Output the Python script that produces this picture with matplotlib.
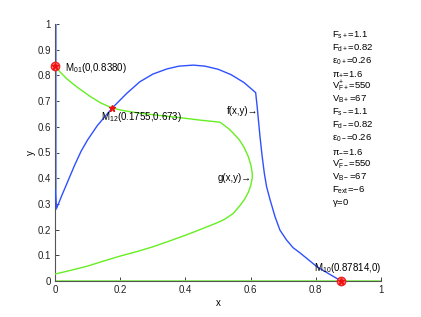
import matplotlib
matplotlib.use("Agg")
import matplotlib.pyplot as plt
import numpy as np

plt.rcParams['font.family'] = ['Liberation Sans', 'DejaVu Sans']
plt.rcParams['mathtext.fontset'] = 'custom'
plt.rcParams['mathtext.rm'] = 'Liberation Sans'
plt.rcParams['mathtext.it'] = 'Liberation Sans'

# f(x,y) nullcline (blue)
f_x = [0.0, 0.005, 0.02, 0.04, 0.06, 0.08, 0.1, 0.13, 0.1755, 0.22, 0.26, 0.3, 0.343, 0.38,
       0.424, 0.46, 0.5, 0.54, 0.58, 0.6155, 0.62, 0.624, 0.629, 0.635, 0.642, 0.649, 0.66,
       0.675, 0.69, 0.71, 0.73, 0.752, 0.78, 0.803, 0.84, 0.87814]
f_y = [0.355, 0.283, 0.33, 0.39, 0.45, 0.505, 0.549, 0.605, 0.673, 0.73, 0.775, 0.805, 0.825,
       0.836, 0.840, 0.836, 0.824, 0.803, 0.772, 0.733, 0.68, 0.626, 0.56, 0.49, 0.42, 0.367,
       0.315, 0.25, 0.198, 0.16, 0.13, 0.109, 0.08, 0.056, 0.028, 0.0]
f_axis_y = [0.283, 1.0]

# g(x,y) nullcline (green)
g_x = [0.0, 0.015, 0.036, 0.066, 0.107, 0.14, 0.1755, 0.21, 0.25, 0.3, 0.35, 0.4, 0.445, 0.506,
       0.52, 0.535, 0.547, 0.565, 0.58, 0.593, 0.601, 0.605, 0.605, 0.6, 0.593, 0.58, 0.567,
       0.547, 0.52, 0.5, 0.445, 0.4, 0.35, 0.3, 0.25, 0.2, 0.15, 0.1, 0.05, 0.0]
g_y = [0.838, 0.814, 0.787, 0.756, 0.719, 0.693, 0.673, 0.663, 0.655, 0.647, 0.64, 0.633, 0.626,
       0.618, 0.605, 0.59, 0.575, 0.55, 0.52, 0.484, 0.45, 0.42, 0.40, 0.37, 0.345, 0.315, 0.293,
       0.263, 0.24, 0.228, 0.2, 0.178, 0.155, 0.133, 0.114, 0.097, 0.078, 0.058, 0.042, 0.027]
g_axis_x = [0.0, 1.0]

# equilibria
eq_x = [0.0, 0.1755, 0.87814]
eq_y = [0.8380, 0.673, 0.0]
eq_labels = [r'M$_{01}$(0,0.8380)', r'M$_{12}$(0.1755,0.673)', r'M$_{10}$(0.87814,0)']

params = [r'F$_{s+}$=1.1', r'F$_{d+}$=0.82', r'$\varepsilon_{0+}$=0.26', r'$\pi_{+}$=1.6',
          r'V$^{+}_{F+}$=550', r'V$_{B+}$=67', r'F$_{s-}$=1.1', r'F$_{d-}$=0.82',
          r'$\varepsilon_{0-}$=0.26', r'$\pi_{-}$=1.6', r'V$^{-}_{F-}$=550', r'V$_{B-}$=67',
          r'F$_{ext}$=$-$6', r'$\gamma$=0']

W, H = 421, 317
fig = plt.figure(figsize=(W/100, H/100), dpi=100)
ax = fig.add_axes([55/W, 1-281/H, 326/W, 257/H])

blue = '#2f50ff'
green = '#66ee22'

ax.plot([0, 0], f_axis_y, color='#8a9cff', lw=2.2, zorder=2)
ax.plot(g_axis_x, [0, 0], color='#88ee55', lw=2.0, zorder=2)
ax.plot(f_x, f_y, color=blue, lw=1.0, zorder=3)
ax.plot(g_x, g_y, color=green, lw=1.0, zorder=3)

for i in (0, 2):
    ax.plot(eq_x[i], eq_y[i], 'o', ms=6, mfc='#ff8888', mec='#ee2222', mew=1.0, zorder=5, clip_on=False)
ax.plot(eq_x, eq_y, '*', ms=5, color='#ee1111', zorder=6, clip_on=False)

fs = 7
ax.text(0.03, 0.83, eq_labels[0], fontsize=fs, va='center', ha='left')
ax.text(0.142, 0.637, eq_labels[1], fontsize=fs, va='center', ha='left')
ax.text(0.793, 0.05, eq_labels[2], fontsize=fs, va='center', ha='left')
ax.text(0.624, 0.663, 'f(x,y)\u2192', fontsize=fs, va='center', ha='right')
ax.text(0.603, 0.402, 'g(x,y)\u2192', fontsize=fs, va='center', ha='right')

y0 = (281-35)/257
y1 = (281-203)/257
ys = np.linspace(y0, y1, len(params))
for s, yy in zip(params, ys):
    ax.text(0.849, yy, s, fontsize=6.8, va='center', ha='left')

ax.set_xlim(0, 1)
ax.set_ylim(0, 1)
ax.set_xticks(np.arange(0, 1.01, 0.2))
ax.set_yticks(np.arange(0, 1.01, 0.1))
ax.set_xticklabels(['0', '0.2', '0.4', '0.6', '0.8', '1'])
ax.set_yticklabels(['0', '0.1', '0.2', '0.3', '0.4', '0.5', '0.6', '0.7', '0.8', '0.9', '1'])
ax.tick_params(direction='in', length=3, width=0.6, labelsize=fs, colors='#222222', pad=3)
for sp in ('top', 'right'):
    ax.spines[sp].set_visible(False)
for sp in ('left', 'bottom'):
    ax.spines[sp].set_color('#555555')
    ax.spines[sp].set_linewidth(0.8)
ax.set_xlabel('x', fontsize=fs, labelpad=2)
ax.set_ylabel('y', fontsize=fs, labelpad=1)

fig.savefig('out.png', dpi=100)
